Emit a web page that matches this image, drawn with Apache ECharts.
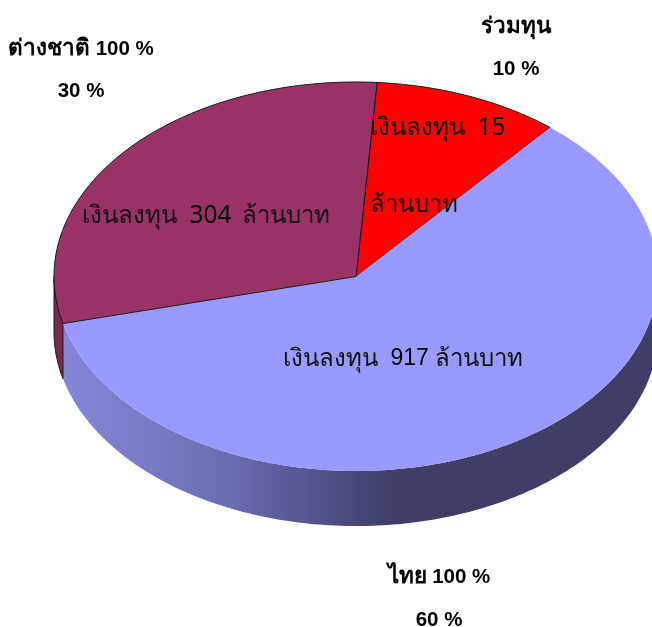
<!DOCTYPE html>
<html>
<head>
<meta charset="utf-8">
<style>
  html, body { margin: 0; padding: 0; background: #fff; }
  #main { width: 652px; height: 627px; }
</style>
<script src="https://cdn.jsdelivr.net/npm/echarts@6/dist/echarts.min.js"></script>
</head>
<body>
<div id="main"></div>
<script>
// shares in percent, clockwise from the red slice
const sliceNames = ["ร่วมทุน", "ไทย", "ต่างชาติ"];
const sliceOwners = ["", "100 %", "100 %"];
const sliceShares = [10, 60, 30];
const sliceInvest = [15, 917, 304];
const sliceColors = ["#ff0000", "#9999ff", "#993366"];

const startAngle = 4;
const depth = 0.283; // thickness of the pie in y axis units

// point on the unit circle, 0 deg at the top, clockwise
function rim(deg) {
  const r = (deg * Math.PI) / 180;
  return [Math.sin(r), Math.cos(r)];
}

function arcPoints(from, to) {
  const pts = [];
  for (let a = from; a <= to; a += 1) pts.push(rim(a));
  pts.push(rim(to));
  return pts;
}

function sliceRange(index) {
  let a = startAngle;
  for (let i = 0; i < index; i++) a += (sliceShares[i] / 100) * 360;
  return [a, a + (sliceShares[index] / 100) * 360];
}

const sideFills = [
  "#990000",
  new echarts.graphic.LinearGradient(0, 0, 1, 0, [
    { offset: 0, color: "#8686da" },
    { offset: 0.25, color: "#7070b8" },
    { offset: 0.47, color: "#4c4c80" },
    { offset: 0.55, color: "#3e3e66" },
    { offset: 1, color: "#3e3e66" },
  ]),
  "#7a2850",
];

function renderSide(params, api) {
  const i = api.value(0);
  const range = sliceRange(i);
  // only the front half of the wall can be seen
  const from = Math.max(range[0], 90);
  const to = Math.min(range[1], 270);
  if (from >= to) return null;
  const arc = arcPoints(from, to);
  const top = arc.map((p) => api.coord(p));
  const bottom = arc
    .map((p) => api.coord([p[0], p[1] - depth]))
    .reverse();
  return {
    type: "polygon",
    shape: { points: top.concat(bottom) },
    style: {
      fill: sideFills[i],
      stroke: i === 2 ? "#1a1a1a" : null,
      lineWidth: i === 2 ? 1 : 0,
    },
  };
}

function renderTop(params, api) {
  const i = api.value(0);
  const range = sliceRange(i);
  const center = api.coord([0, 0]);
  const arc = arcPoints(range[0], range[1]).map((p) => api.coord(p));
  const children = [
    {
      type: "polygon",
      shape: { points: [center].concat(arc) },
      style: { fill: sliceColors[i] },
    },
  ];
  // blue slice has no outline on its rim
  if (i !== 1) {
    children.push({
      type: "polyline",
      shape: { points: [arc[arc.length - 1], center, arc[0]] },
      style: { fill: null, stroke: "#1a1a1a", lineWidth: 1 },
    });
    children.push({
      type: "polyline",
      shape: { points: arc },
      style: { fill: null, stroke: "#1a1a1a", lineWidth: 1 },
    });
  }
  return { type: "group", children };
}

function outerLabel(thai, num, x, y) {
  const text = (thai ? "{t|" + thai + "}" : "") + (thai && num ? " " : "") + (num ? "{n|" + num + "}" : "");
  return {
    type: "text",
    x: x,
    y: y,
    z: 10,
    style: {
      text: text,
      fill: "#000",
      font: "bold 20px 'Liberation Sans', sans-serif",
      align: "center",
      verticalAlign: "middle",
      rich: {
        t: { fontFamily: "'Liberation Sans', 'Noto Sans', sans-serif", fontWeight: "bold", fontSize: 22.5, fill: "#000" },
        n: { fontFamily: "'Liberation Sans', sans-serif", fontWeight: "bold", fontSize: 20.5, fill: "#000" },
      },
    },
  };
}

// the 917 label uses a lighter latin face than the other two
function innerLabel(parts, x, y, numFont) {
  const text = parts
    .map((p, k) => (k % 2 === 0 ? "{t|" + p + "}" : "{n|" + p + "}"))
    .join("");
  return {
    type: "text",
    x: x,
    y: y,
    z: 10,
    style: {
      text: text,
      fill: "#000",
      font: "24px 'Noto Sans', sans-serif",
      align: "left",
      verticalAlign: "middle",
      rich: {
        t: { fontFamily: "'Noto Sans', sans-serif", fontSize: 24, fill: "#111" },
        n: { fontFamily: numFont, fontSize: numFont === "Liberation Sans" ? 23 : 24.5, fill: "#000" },
      },
    },
  };
}

const indexData = sliceNames.map((n, i) => [i, sliceShares[i], n]);

const chart = echarts.init(document.getElementById("main"), null, { renderer: "canvas" });
chart.setOption({
  animation: false,
  backgroundColor: "#fff",
  // the pie runs a little past the right edge of the window, so the x range stops short of 1
  grid: { left: 54, top: 82, width: 598, height: 389 },
  xAxis: { type: "value", min: -1, max: 0.98, show: false },
  yAxis: { type: "value", min: -1, max: 1, show: false },
  series: [
    { type: "custom", clip: false, z: 1, renderItem: renderSide, data: indexData },
    { type: "custom", clip: false, z: 2, renderItem: renderTop, data: indexData },
  ],
  graphic: [
    outerLabel(sliceNames[0], sliceOwners[0], 516, 27),
    outerLabel("", sliceShares[0] + " %", 516, 69),
    outerLabel(sliceNames[2], sliceOwners[2], 81, 49),
    outerLabel("", sliceShares[2] + " %", 81, 91),
    outerLabel(sliceNames[1], sliceOwners[1], 439, 577),
    outerLabel("", sliceShares[1] + " %", 439, 620),
    innerLabel(["เงินลงทุน  ", sliceInvest[2], " \u2009ล้านบาท"], 82, 216, "Noto Sans"),
    innerLabel(["เงินลงทุน  ", sliceInvest[0]], 370, 128, "Noto Sans"),
    innerLabel(["ล้านบาท"], 370, 205, "Noto Sans"),
    innerLabel(["เงินลงทุน  ", sliceInvest[1], " ล้านบาท"], 283, 359, "Liberation Sans"),
  ],
});
</script>
</body>
</html>
